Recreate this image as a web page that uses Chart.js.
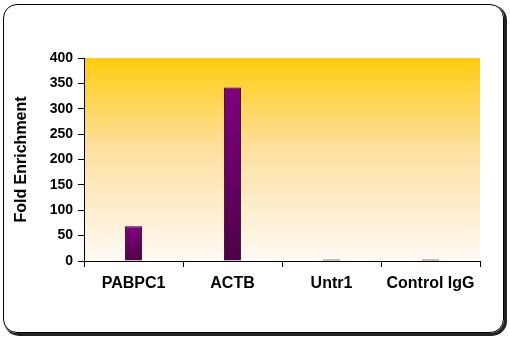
<!DOCTYPE html>
<html>
<head>
<meta charset="utf-8">
<script src="https://cdn.jsdelivr.net/npm/chart.js@4.4.1/dist/chart.umd.min.js"></script>
<style>
  html, body { margin: 0; padding: 0; background: #fff; }
  body { width: 510px; height: 340px; position: relative; overflow: hidden; }
  .frame {
    position: absolute; left: 3px; top: 4px; width: 499px; height: 327px;
    border: 1.5px solid #000; border-radius: 14px;
    box-shadow: 2px 2px 0 1px #222;
  }
  canvas { position: absolute; left: 0; top: 0; }
</style>
</head>
<body>
<div class="frame"></div>
<canvas id="chart" width="510" height="340"></canvas>
<script>
const categories = ['PABPC1', 'ACTB', 'Untr1', 'Control IgG'];
const foldEnrichment = [68.5, 342, 3, 3];
const yTicks = [0, 50, 100, 150, 200, 250, 300, 350, 400];

const font = "'Liberation Sans', Arial, sans-serif";

// fills the plot area with the gold-to-white wash
const plotBackground = {
  id: 'plotBackground',
  beforeDraw(chart) {
    const { ctx, chartArea: a } = chart;
    const g = ctx.createLinearGradient(0, a.top, 0, a.bottom);
    g.addColorStop(0, '#ffcc0f');
    g.addColorStop(0.45, '#fde0a0');
    g.addColorStop(1, '#fffaf5');
    ctx.save();
    ctx.fillStyle = g;
    ctx.fillRect(a.left, a.top, a.right - a.left, a.bottom - a.top);
    ctx.restore();
  },
};

const barFill = (context) => {
  const chart = context.chart;
  if (!chart.chartArea) return '#800080';
  const y = chart.scales.y;
  const value = context.raw || 0;
  const top = y.getPixelForValue(value);
  const bottom = y.getPixelForValue(0);
  const g = chart.ctx.createLinearGradient(0, top, 0, bottom + 1);
  g.addColorStop(0, '#800080');
  g.addColorStop(1, '#4e0048');
  return g;
};

new Chart(document.getElementById('chart'), {
  type: 'bar',
  data: {
    labels: categories,
    datasets: [
      {
        data: foldEnrichment,
        backgroundColor: barFill,
        borderColor: '#100008',
        borderWidth: 1,
        borderSkipped: 'bottom',
        categoryPercentage: 1,
        barPercentage: 0.175,
      },
    ],
  },
  plugins: [plotBackground],
  options: {
    responsive: false,
    animation: false,
    layout: { padding: { left: 12, right: 30, top: 58, bottom: 0 } },
    plugins: { legend: { display: false }, tooltip: { enabled: false } },
    scales: {
      x: {
        grid: { drawOnChartArea: false, tickLength: 6, color: '#000', offset: true },
        border: { color: '#000', width: 1 },
        ticks: { color: '#000', font: { family: font, size: 16, weight: 'bold' }, padding: 7 },
        afterFit: (scale) => { scale.height = 79; },
      },
      y: {
        min: 0,
        max: 400,
        afterBuildTicks: (scale) => { scale.ticks = yTicks.map((v) => ({ value: v })); },
        grid: { drawOnChartArea: false, tickLength: 6, color: '#000' },
        border: { color: '#000', width: 1 },
        ticks: { color: '#000', font: { family: font, size: 14, weight: 'bold' }, padding: 5 },
        title: {
          display: true,
          text: 'Fold Enrichment',
          color: '#000',
          font: { family: font, size: 16, weight: 'bold' },
          padding: { top: 0, bottom: 8 },
        },
        afterFit: (scale) => { scale.width = 72; },
      },
    },
  },
});
</script>
</body>
</html>
